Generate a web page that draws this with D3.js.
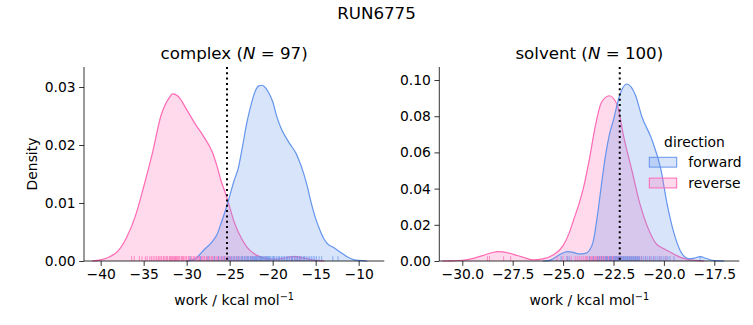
<!DOCTYPE html>
<html><head><meta charset="utf-8">
<script src="https://cdn.jsdelivr.net/npm/d3@7"></script>
<style>body{margin:0;background:#fff}svg{display:block}text{font-family:"DejaVu Sans",sans-serif;fill:#000}</style>
</head><body>
<script>
// ---- data ----
const figTitle = "RUN6775";
const seriesNames = ["forward", "reverse"];
const seriesColors = ["#6495ED", "#FF69B4"];

// complex: KDE curves
const complexFwdX = [-30,-29,-28,-27,-26.4,-26,-25.5,-25,-24.5,-24,-23.5,-23,-22.5,-22,-21.6,-21.2,-20.8,-20.5,-20,-19.5,-19,-18.5,-18,-17.3,-17,-16.4,-16,-15.6,-15,-14.5,-14,-13.5,-13,-12.5,-12,-11.3,-10.5,-10,-9];
const complexFwdY = [0,0.0004,0.0019,0.0034,0.0048,0.0065,0.0087,0.0112,0.0138,0.0160,0.0198,0.0239,0.0270,0.0294,0.0302,0.0303,0.0298,0.0291,0.0275,0.0248,0.0228,0.0214,0.0202,0.0186,0.0176,0.0151,0.0130,0.0105,0.0073,0.0053,0.0037,0.0028,0.0024,0.0019,0.0014,0.0007,0.0002,0.0001,0];
const complexRevX = [-41,-40,-39,-38,-37,-36,-35,-34,-33,-32,-31.65,-31,-30,-29,-28,-27,-26.5,-26,-25.5,-25,-24.5,-24,-23,-22,-21,-20,-19,-18,-17.5,-17,-16,-15,-14];
const complexRevY = [0,0.0002,0.0007,0.0017,0.0040,0.0076,0.0128,0.0185,0.0250,0.0282,0.0288,0.0284,0.0261,0.0236,0.0214,0.0187,0.0165,0.0138,0.0117,0.0093,0.0068,0.0050,0.0024,0.0011,0.0005,0.0003,0.0004,0.0007,0.0008,0.0007,0.0004,0.0001,0];
// complex: individual work values (rug)
const complexFwdWork = [-29.6,-28.4,-27.5,-26.8,-26.3,-25.9,-25.6,-25.2,-25.0,-24.8,-24.6,-24.4,-24.2,-24.0,-23.8,-23.6,-23.5,-23.3,-23.2,-23.0,-22.9,-22.8,-22.6,-22.5,-22.4,-22.3,-22.2,-22.1,-22.0,-21.9,-21.8,-21.7,-21.6,-21.5,-21.4,-21.3,-21.2,-21.1,-21.0,-20.9,-20.8,-20.7,-20.6,-20.5,-20.4,-20.3,-20.2,-20.0,-19.9,-19.8,-19.6,-19.5,-19.3,-19.2,-19.0,-18.9,-18.7,-18.6,-18.4,-18.3,-18.1,-18.0,-17.8,-17.7,-17.5,-17.4,-17.2,-17.1,-16.9,-16.8,-16.6,-16.4,-16.3,-16.1,-15.9,-15.7,-15.5,-15.3,-15.1,-14.9,-14.6,-14.3,-13.0,-12.4];
const complexRevWork = [-36.4,-36.1,-35.5,-35.2,-34.8,-34.6,-34.3,-34.1,-33.9,-33.7,-33.5,-33.3,-33.2,-33.0,-32.9,-32.7,-32.6,-32.4,-32.3,-32.2,-32.0,-31.9,-31.8,-31.7,-31.6,-31.5,-31.4,-31.3,-31.2,-31.1,-31.0,-30.9,-30.8,-30.6,-30.5,-30.4,-30.3,-30.1,-30.0,-29.8,-29.7,-29.5,-29.4,-29.2,-29.1,-28.9,-28.8,-28.6,-28.5,-28.3,-28.2,-28.0,-27.9,-27.7,-27.6,-27.4,-27.3,-27.1,-27.0,-26.8,-26.7,-26.5,-26.4,-26.2,-26.0,-25.9,-25.7,-25.5,-25.3,-25.1,-24.9,-24.6,-24.4,-24.1,-23.9,-23.6,-23.3,-23.0,-22.6,-22.3,-21.9,-21.4,-20.8,-17.8,-17.4,-17.1,-16.8];

// solvent: KDE curves
const solventFwdX = [-26,-25.7,-25.5,-25.2,-24.8,-24.5,-24.2,-23.9,-23.7,-23.5,-23.3,-23.1,-22.9,-22.7,-22.5,-22.2,-21.85,-21.4,-21.1,-20.6,-20.15,-19.85,-19.5,-19.2,-18.9,-18.7,-18.5,-18.2,-17.9,-17.5,-17];
const solventFwdY = [0,0.0002,0.0012,0.0033,0.0052,0.0048,0.0039,0.0042,0.0058,0.0110,0.0250,0.0420,0.0580,0.0700,0.0780,0.0913,0.0978,0.0913,0.0800,0.0672,0.0506,0.0320,0.0154,0.0060,0.0018,0.0012,0.0016,0.0024,0.0014,0.0002,0];
const solventRevX = [-31,-30.5,-30,-29.5,-29,-28.5,-28.25,-28,-27.5,-27,-26.5,-26,-25.5,-25,-24.7,-24.5,-24.2,-24,-23.7,-23.4,-23.1,-22.7,-22.3,-22,-21.6,-21.2,-20.75,-20.4,-20,-19.75,-19.4,-19.1,-18.5,-18];
const solventRevY = [0,0.0001,0.0004,0.0013,0.0030,0.0047,0.0052,0.0050,0.0038,0.0021,0.0007,0.0012,0.0033,0.0085,0.0154,0.0220,0.0320,0.0400,0.0560,0.0746,0.0876,0.0913,0.0857,0.0690,0.0506,0.0320,0.0172,0.0098,0.0068,0.0052,0.0032,0.0017,0.0003,0];
// solvent: individual work values (rug)
const solventFwdWork = [-25.1,-24.8,-24.7,-23.7,-23.5,-23.3,-23.2,-23.1,-23.0,-22.9,-22.85,-22.8,-22.7,-22.65,-22.6,-22.5,-22.45,-22.4,-22.35,-22.3,-22.25,-22.2,-22.15,-22.1,-22.05,-22.0,-21.95,-21.9,-21.85,-21.8,-21.75,-21.7,-21.65,-21.6,-21.55,-21.5,-21.45,-21.4,-21.35,-21.3,-21.25,-21.2,-21.1,-21.0,-20.9,-20.8,-20.7,-20.6,-20.5,-20.4,-20.3,-20.2,-20.1,-20.0,-19.9,-19.8,-19.7,-19.5,-18.2];
const solventRevWork = [-28.75,-28.65,-27.95,-27.6,-25.3,-25.0,-24.8,-24.6,-24.4,-24.3,-24.2,-24.1,-24.0,-23.9,-23.85,-23.8,-23.7,-23.65,-23.6,-23.55,-23.5,-23.45,-23.4,-23.35,-23.3,-23.25,-23.2,-23.15,-23.1,-23.05,-23.0,-22.95,-22.9,-22.85,-22.8,-22.75,-22.7,-22.65,-22.6,-22.55,-22.5,-22.45,-22.4,-22.35,-22.3,-22.25,-22.2,-22.15,-22.1,-22.0,-21.9,-21.8,-21.7,-21.6,-21.5,-21.4,-21.3,-21.2,-21.1,-20.9,-20.7,-20.5,-20.2,-19.9];

// reference lines, tick values
const complexRef = -25.31, solventRef = -22.19;
const complexXTicks = [-40,-35,-30,-25,-20,-15,-10];
const complexYTicks = [0,0.01,0.02,0.03];
const solventXTicks = [-30,-27.5,-25,-22.5,-20,-17.5];
const solventYTicks = [0,0.02,0.04,0.06,0.08,0.10];

// ---- drawing ----
const W = 753, H = 325;
const svg = d3.select("body").append("svg").attr("width", W).attr("height", H);

svg.append("text").attr("x", 376.5).attr("y", 19).attr("text-anchor", "middle")
  .style("font-size", "16.67px").text(figTitle);

const zip = (xs, ys) => xs.map((x, i) => [x, ys[i]]);

const panels = [
  {name: "complex", n: 97, x0: 84, x1: 384.3, xd: [-41.94, -7.02], yd: [0, 0.03345],
   fwd: zip(complexFwdX, complexFwdY), rev: zip(complexRevX, complexRevY),
   fwdW: complexFwdWork, revW: complexRevWork, ref: complexRef,
   xt: complexXTicks, yt: complexYTicks, xf: d3.format("d"), yf: d3.format(".2f"), ylabel: true},
  {name: "solvent", n: 100, x0: 439.3, x1: 739.3, xd: [-31.14, -16.26], yd: [0, 0.1072],
   fwd: zip(solventFwdX, solventFwdY), rev: zip(solventRevX, solventRevY),
   fwdW: solventFwdWork, revW: solventRevWork, ref: solventRef,
   xt: solventXTicks, yt: solventYTicks, xf: d3.format(".1f"), yf: d3.format(".2f"), ylabel: false, legend: true}
];
const y0 = 67, y1 = 261;

panels.forEach(p => {
  const x = d3.scaleLinear().domain(p.xd).range([p.x0, p.x1]);
  const y = d3.scaleLinear().domain(p.yd).range([y1, y0]);
  const g = svg.append("g");
  const area = d3.area().x(d => x(d[0])).y0(y(0)).y1(d => y(d[1])).curve(d3.curveMonotoneX);
  const line = d3.line().x(d => x(d[0])).y(d => y(d[1])).curve(d3.curveMonotoneX);
  // reverse drawn first, forward on top (seaborn hue order)
  [[p.rev, seriesColors[1]], [p.fwd, seriesColors[0]]].forEach(([data, c]) => {
    g.append("path").datum(data).attr("d", area).attr("fill", c).attr("fill-opacity", 0.25).attr("stroke", "none");
    g.append("path").datum(data).attr("d", line).attr("fill", "none").attr("stroke", c).attr("stroke-width", 1.2);
  });
  // rugs
  const rugH = (y1 - y0) * 0.025;
  [[p.revW, seriesColors[1]], [p.fwdW, seriesColors[0]]].forEach(([vals, c]) => {
    g.selectAll(null).data(vals).enter().append("line")
      .attr("x1", d => x(d)).attr("x2", d => x(d)).attr("y1", y1).attr("y2", y1 - rugH)
      .attr("stroke", c).attr("stroke-width", 1).attr("stroke-opacity", 0.7);
  });
  // reference dotted line
  g.append("line").attr("x1", x(p.ref)).attr("x2", x(p.ref)).attr("y1", y0).attr("y2", y1)
    .attr("stroke", "#000").attr("stroke-width", 2).attr("stroke-dasharray", "2,3.3");

  // axes
  const ax = d3.axisBottom(x).tickValues(p.xt).tickFormat(p.xf).tickSize(4.86).tickPadding(3.5).tickSizeOuter(0);
  const ay = d3.axisLeft(y).tickValues(p.yt).tickFormat(p.yf).tickSize(4.86).tickPadding(3.5).tickSizeOuter(0);
  const gx = svg.append("g").attr("transform", `translate(0,${y1})`).call(ax);
  const gy = svg.append("g").attr("transform", `translate(${p.x0},0)`).call(ay);
  [gx, gy].forEach(a => {
    a.selectAll("path,line").attr("stroke", "#000").attr("stroke-width", 0.8);
    a.selectAll("text").style("font-size", "13.89px").style("font-family", "DejaVu Sans").attr("fill", "#000");
  });
  gx.select(".domain").attr("d", `M${p.x0},0H${p.x1}`);
  gy.select(".domain").attr("d", `M0,${y1}V${y0}`);

  // title
  const cx = (p.x0 + p.x1) / 2;
  const t = svg.append("text").attr("x", cx).attr("y", 59).attr("text-anchor", "middle").style("font-size", "16.67px");
  t.append("tspan").text(p.name + " (");
  t.append("tspan").style("font-style", "italic").text("N");
  t.append("tspan").text(" = " + p.n + ")");

  // x label
  const xl = svg.append("text").attr("x", cx).attr("y", 305).attr("text-anchor", "middle").style("font-size", "13.89px");
  xl.append("tspan").text("work / kcal mol");
  xl.append("tspan").attr("dy", -5.5).style("font-size", "9.7px").text("\u22121");

  if (p.ylabel) {
    svg.append("text").attr("transform", `translate(36.5,${(y0 + y1) / 2}) rotate(-90)`)
      .attr("text-anchor", "middle").style("font-size", "13.89px").text("Density");
  }

  if (p.legend) {
    const lg = svg.append("g");
    lg.append("text").attr("x", 694.5).attr("y", 146.5).attr("text-anchor", "middle").style("font-size", "13.89px").text("direction");
    seriesNames.forEach((s, i) => {
      const yy = 157.3 + i * 20.8;
      lg.append("rect").attr("x", 649.3).attr("y", yy).attr("width", 27.4).attr("height", 9.8)
        .attr("fill", seriesColors[i]).attr("fill-opacity", 0.25).attr("stroke", seriesColors[i]).attr("stroke-width", 1);
      lg.append("text").attr("x", 688.3).attr("y", yy + 10).style("font-size", "13.89px").text(s);
    });
  }
});
</script>
</body></html>
